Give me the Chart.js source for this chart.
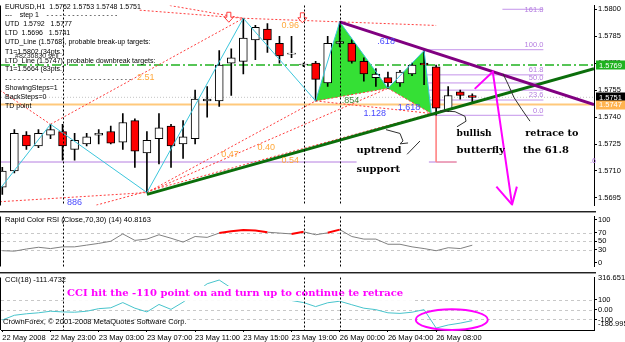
<!DOCTYPE html>
<html><head><meta charset="utf-8">
<script src="https://cdn.jsdelivr.net/npm/chart.js@4/dist/chart.umd.min.js"></script>
<style>
html,body{margin:0;padding:0;background:#fff;width:625px;height:342px;overflow:hidden}
canvas{position:absolute;left:0}
</style></head><body>
<canvas id="cMain" width="625" height="211" style="top:0"></canvas>
<canvas id="cRsi" width="625" height="61" style="top:211px"></canvas>
<canvas id="cCci" width="625" height="70" style="top:272px"></canvas>
<script>
// ---------------- DATA ----------------
const candleIndex = [0,1,2,3,4,5,6,7,8,9,10,11,12,13,14,15,16,17,18,19,20,21,22,23,24,25,26,27,28,29,30,31,32,33,34,35,36,37,38,39];
const openPrice  = [1.5701,1.5710,1.5730,1.5724,1.5730,1.5732,1.5722,1.5725,1.5730,1.5732,1.5726,1.5738,1.5720,1.5728,1.5735,1.5725,1.5728,1.5749,1.5749,1.5770,1.5771,1.5783,1.5789,1.5781,1.5775,1.5769,1.5770,1.5759,1.5781,1.5781,1.5771,1.5762,1.5762,1.5759,1.5764,1.5770,1.5768,1.5744,1.5754,1.5752];
const highPrice  = [1.5712,1.5733,1.5732,1.5733,1.5736,1.5736,1.5731,1.5731,1.5733,1.5735,1.5742,1.5739,1.5732,1.5742,1.5736,1.5738,1.5755,1.5757,1.5777,1.5778,1.5795,1.5791,1.5792,1.5785,1.5785,1.5770,1.5771,1.5785,1.5793,1.5783,1.5773,1.5767,1.5765,1.5766,1.5770,1.5777,1.5769,1.5757,1.5755,1.5753];
const lowPrice   = [1.5697,1.5709,1.5722,1.5723,1.5728,1.5716,1.5716,1.5724,1.5725,1.5725,1.5722,1.5712,1.5698,1.5714,1.5712,1.5717,1.5725,1.5740,1.5746,1.5752,1.5764,1.5772,1.5776,1.5770,1.5773,1.5768,1.5749,1.5757,1.5779,1.5770,1.5760,1.5757,1.5756,1.5757,1.5763,1.5758,1.5741,1.5743,1.5750,1.5748];
const closePrice = [1.5710,1.5731,1.5724,1.5731,1.5733,1.5724,1.5727,1.5729,1.5731,1.57255,1.5737,1.5721,1.5727,1.5734,1.5724,1.5729,1.5750,1.5750,1.5769,1.5773,1.5784,1.5790,1.5783,1.5774,1.5775,1.5769,1.5761,1.5781,1.5782,1.5771,1.5764,1.5764,1.5759,1.5765,1.5769,1.5769,1.5745,1.5752,1.5752,1.5751];
const rsiValues  = [28,27,32,36,33,37,37,41,45,50,67,52,55,65,57,48,61,59,69,73,76,75,71,69,67,72,65,69.5,77,61,55,55,43,43,37,33,28,35,33,40.8163];
const cciValues  = [-105,-57,-42,-32,-16,-23,-26,-16,10,19,72,15,-23,53,3,76,170,263,301,220,160,175,150,130,93,72,31,70,86,50,15,0,-32,-38,-26,0,-186.995,-156,-137,-111.4732];

const timeTickIndex  = [0,4,8,12,16,20,24,28,32,36];
const timeTickLabels = ['22 May 2008','22 May 23:00','23 May 03:00','23 May 07:00','23 May 11:00','23 May 15:00','23 May 19:00','26 May 00:00','26 May 04:00','26 May 08:00'];
const priceTicks = [1.5800,1.5785,1.5770,1.5755,1.5740,1.5725,1.5710,1.5695];
const rsiTicks = [100,70,50,30,0];
const rsiGrid = [70,50,30];
const cciTicks = [100,0,-100];
const cciTickLabels = ['100','0.00','-100'];
const cciGrid = [100,0,-100];
const cciMax = 316.6517, cciMin = -186.995;

// drawn objects (index, price)
const zigzagIdx   = [-0.2,4,12,20,26,28,32,35,35.6];
const zigzagPrice = [1.5700,1.5736,1.5698,1.5795,1.5749,1.5793,1.5756,1.5777,1.5742];
const xabIdx = [26,28,32,26], xabPrice = [1.5749,1.5793,1.5756,1.5749];
const bcdIdx = [32,35,35.6,32], bcdPrice = [1.5756,1.5777,1.5742,1.5756];
const uptrendIdx = [12,49.1], uptrendPrice = [1.5697,1.5767];
const downtrendIdx = [28,49.1], downtrendPrice = [1.5793,1.5747];
const bidPrice = 1.5751, tdPointPrice = 1.5747, utdLinePrice = 1.5769, lowLevelPrice = 1.5715;
const lowLevelSpans = [[-0.2,29.4],[35.4,37.7]];
const fibPrices = [1.5741,1.57495,1.5755,1.5759,1.57635,1.57775,1.5800];
const fibLabels = ['0.0','23.6','','50.0','61.8','100.0','161.8'];
const fibStartIdx = [35.4,35,35,35,35,34.9,41.5];
const fibEndIdx = 44.9;
const redDotIdx = [[-0.2,4],[4,20],[-0.2,12],[7.8,35.6],[12,26],[12,32],[26,32],[32,35.6],[26,35.6],[11.4,20],[13.9,20],[20,28],[28,36]];
const redDotPrice = [[1.5755,1.5736],[1.5736,1.5795],[1.56929,1.5698],[1.5691,1.5742],[1.5698,1.5749],[1.5698,1.5756],[1.5749,1.5756],[1.5756,1.5742],[1.5749,1.5742],[1.57995,1.5795],[1.58021,1.5795],[1.5795,1.5793],[1.5793,1.5791]];
const salmonIdx = [36,36,37.7], salmonPrice = [1.5741,1.5715,1.5715];
const arrowShaftIdx = [39.2,40.7,42.3], arrowShaftPrice = [1.57557,1.57652,1.56913];
const arrowHeadIdx = [41.0,42.3,42.7], arrowHeadPrice = [1.57013,1.56913,1.57013];
const connectorIdx = [[31.84,33.0,33.25,33.0,33.67],[34.66,33.59],[36.32,37.57,38.40,38.48,37.73],[41.55,41.97,42.46,43.13,43.79]];
const connectorPrice = [[1.57330,1.57309,1.57267,1.57251,1.57256],[1.57267,1.57193],[1.57435,1.57430,1.57404,1.57377,1.57346],[1.57641,1.57583,1.57509,1.57441,1.57377]];
const markerIdx = [5,25,28];
const fractalArrowIdx = [18.8,24.9], fractalArrowPrice = [1.5795,1.57947];
const ratioLabels = [
  {i:11.9,p:1.5762,t:'2.51',c:'#ffa83c'},{i:23.9,p:1.5791,t:'0.96',c:'#ffa83c'},
  {i:18.9,p:1.57193,t:'0.47',c:'#ffa83c'},{i:21.9,p:1.57230,t:'0.40',c:'#ffa83c'},
  {i:23.9,p:1.57156,t:'0.54',c:'#ffa83c'},{i:6.0,p:1.56925,t:'886',c:'#4848ff'},
  {i:31.85,p:1.57821,t:'.618',c:'#4848ff'},{i:30.9,p:1.57420,t:'1.128',c:'#4848ff'},
  {i:33.75,p:1.57456,t:'1.618',c:'#4848ff'},{i:28.9,p:1.57493,t:'.854',c:'#3c8c3c'}
];
const noteTexts = [
  {i:29.4,p:1.57214,t:'uptrend',w:45},{i:29.4,p:1.57111,t:'support',w:45},
  {i:37.7,p:1.57309,t:'bullish',w:35},{i:37.7,p:1.57214,t:'butterfly',w:50},
  {i:43.4,p:1.57309,t:'retrace to',w:53},{i:43.2,p:1.57214,t:'the 61.8',w:49}
];
const cciNote = {i:5.37,v:165,t:'CCI hit the -110 point on and turn up to continue te retrace',w:345};
const cciEllipse = {i:37.3,v:-102,ri:2.99,rv:105};
const infoLines = ['EURUSD,H1  1.5752 1.5753 1.5748 1.5751','---    step 1    - - - - - - - - - - - - - - - - -','UTD  1.5792   1.5777','LTD  1.5696   1.5741','UTD_Line (1.5768), probable break-up targets:','T1=1.5802 (34pts.)','LTD_Line (1.5747), probable downbreak targets:','T1=1.5664 (83pts.)','- - - - - - - - - - - - - - - - - - - - - - - - - - - - - -','ShowingSteps=1','BackSteps=0','TD point'];

// ---------------- SETUP ----------------
const FONT = '"Liberation Sans", Arial, sans-serif';
const SERIF = '"DejaVu Serif", serif';
const X_MIN = -0.108, X_MAX = 49.1;
Chart.defaults.font.family = FONT;

function lineDS(xs, ys, style){
  return Object.assign({type:'line', data: xs.map((x,k)=>({x:x, y:ys[k]})), pointRadius:0, fill:false, tension:0, borderWidth:1}, style);
}
function yRight(min, max, ticks, fmt){
  return {type:'linear', position:'right', min:min, max:max,
    afterBuildTicks: s => { s.ticks = ticks.map(v => ({value:v})); },
    afterFit: s => { s.width = 31; },
    grid:{drawOnChartArea:false, drawTicks:true, tickLength:3, color:'#000'},
    border:{display:true, color:'#000'},
    ticks:{font:{size:7.5}, color:'#000', padding:1, autoSkip:false, callback: fmt}};
}
const common = {responsive:false, animation:false, events:[], maintainAspectRatio:false,
  plugins:{legend:{display:false}, tooltip:{enabled:false}}};
const hiddenX = {type:'linear', min:X_MIN, max:X_MAX, display:false, offset:false};

function P(ch, i){ return ch.scales.x.getPixelForValue(i); }
function V(ch, v){ return ch.scales.y.getPixelForValue(v); }
function drawMarkers(ch){
  const c = ch.ctx, a = ch.chartArea;
  c.save(); c.strokeStyle='#000'; c.lineWidth=1; c.setLineDash([2,2]);
  markerIdx.forEach(i => { const x = Math.round(P(ch,i))+0.5; c.beginPath(); c.moveTo(x,a.top); c.lineTo(x,a.bottom); c.stroke(); });
  c.setLineDash([]); c.beginPath(); c.moveTo(0.5,a.top); c.lineTo(0.5,a.bottom); c.stroke();
  c.restore();
}
function drawSep(ch){
  const c = ch.ctx; c.save(); c.fillStyle='#222'; c.fillRect(0,0,596,1); c.fillStyle='#9a9a9a'; c.fillRect(0,1,596,1); c.restore();
}
function drawGrid(ch, vals){
  const c = ch.ctx, a = ch.chartArea;
  c.save(); c.strokeStyle='#c8c8c8'; c.lineWidth=1; c.setLineDash([3,3]);
  vals.forEach(v => { const y = Math.round(V(ch,v))+0.5; c.beginPath(); c.moveTo(a.left,y); c.lineTo(a.right,y); c.stroke(); });
  c.restore();
}

// ---------------- MAIN CHART ----------------
const layers = [];
layers.push(lineDS([X_MIN,X_MAX],[bidPrice,bidPrice],{borderColor:'#c4c4c4',borderDash:[1,2]}));
layers.push(lineDS([X_MIN,X_MAX],[tdPointPrice,tdPointPrice],{borderColor:'#ffc97c',borderWidth:2}));
lowLevelSpans.forEach(s => layers.push(lineDS(s,[lowLevelPrice,lowLevelPrice],{borderColor:'#b57ee0'})));
layers.push(lineDS([X_MIN,X_MAX],[utdLinePrice,utdLinePrice],{borderColor:'#1fb21f',borderWidth:1.5,borderDash:[9,3,2,3]}));
fibPrices.forEach((p,k) => layers.push(lineDS([fibStartIdx[k],fibEndIdx],[p,p],{borderColor:'#c493ea'})));
layers.push(lineDS(xabIdx,xabPrice,{borderWidth:0,borderColor:'rgba(0,0,0,0)',fill:'shape',backgroundColor:'#35e035'}));
layers.push(lineDS(bcdIdx,bcdPrice,{borderWidth:0,borderColor:'rgba(0,0,0,0)',fill:'shape',backgroundColor:'#35e035'}));
redDotIdx.forEach((xs,k) => layers.push(lineDS(xs,redDotPrice[k],{borderColor:'#ff3c3c',borderDash:[2,2]})));
layers.push(lineDS(salmonIdx,salmonPrice,{borderColor:'#ff8a8a'}));
layers.push({type:'bar', grouped:false, barThickness:1, borderWidth:0, backgroundColor:'#000',
  data: candleIndex.map(i => ({x:i, y:[lowPrice[i], highPrice[i]]}))});
layers.push({type:'bar', grouped:false, barThickness:8, borderWidth:1, borderColor:'#000', borderSkipped:false, minBarLength:1,
  backgroundColor: candleIndex.map(i => closePrice[i] < openPrice[i] ? '#ff0000' : '#ffffff'),
  data: candleIndex.map(i => ({x:i, y:[openPrice[i], closePrice[i]]}))});
layers.push(lineDS(zigzagIdx,zigzagPrice,{borderColor:'#3cc6dc'}));
layers.push(lineDS(uptrendIdx,uptrendPrice,{borderColor:'#0b6e0b',borderWidth:3}));
layers.push(lineDS(downtrendIdx,downtrendPrice,{borderColor:'#800080',borderWidth:3}));
connectorIdx.forEach((xs,k) => layers.push(lineDS(xs,connectorPrice[k],{borderColor:'#303030'})));
layers.push(lineDS(arrowShaftIdx,arrowShaftPrice,{borderColor:'#ff00ff',borderWidth:2}));
layers.push(lineDS(arrowHeadIdx,arrowHeadPrice,{borderColor:'#ff00ff',borderWidth:2}));
layers.forEach((d,k) => { d.order = -k; });

const mainPlugin = {id:'mainDeco',
  afterDatasetsDraw(ch){
    const c = ch.ctx;
    c.save();
    fractalArrowIdx.forEach((i,k) => {
      const x = P(ch,i), y = V(ch,fractalArrowPrice[k]);
      c.beginPath(); c.moveTo(x-2,y-6); c.lineTo(x+2,y-6); c.lineTo(x+2,y-1); c.lineTo(x+4.5,y-1); c.lineTo(x,y+4); c.lineTo(x-4.5,y-1); c.lineTo(x-2,y-1); c.closePath();
      c.fillStyle='#fff'; c.fill(); c.strokeStyle='#ff3c3c'; c.lineWidth=1; c.stroke();
    });
    c.font = '7.5px '+FONT; c.fillStyle='#b57ee0'; c.textAlign='right'; c.textBaseline='bottom';
    fibPrices.forEach((p,k) => { if(!fibLabels[k]) return; const y = V(ch,p); c.fillText(fibLabels[k], P(ch,fibEndIdx), k===6 ? y+4 : y-1); });
    c.textAlign='left'; c.fillText('.6', 590, 165);
    c.font = '9px '+FONT; c.textAlign='center'; c.textBaseline='middle';
    ratioLabels.forEach(l => { c.fillStyle=l.c; c.fillText(l.t, P(ch,l.i), V(ch,l.p)); });
    c.font = 'bold 10px '+SERIF; c.fillStyle='#000'; c.textAlign='left'; c.textBaseline='middle';
    noteTexts.forEach(n => c.fillText(n.t, P(ch,n.i), V(ch,n.p), n.w));
    c.restore();
    drawMarkers(ch);
  },
  afterDraw(ch){
    const c = ch.ctx;
    c.save();
    c.font = '7.5px '+FONT; c.textBaseline='middle'; c.textAlign='left';
    const boxes = [{p:utdLinePrice,bg:'#1fb21f',fg:'#fff',t:'1.5769'},{p:bidPrice,bg:'#000',fg:'#fff',t:'1.5751'},{p:tdPointPrice,bg:'#ffb450',fg:'#fff',t:'1.5747'}];
    boxes.forEach(b => { const y = V(ch,b.p); c.fillStyle=b.bg; c.fillRect(596,Math.round(y)-4.5,29,9); c.fillStyle=b.fg; c.fillText(b.t,599,y+0.5); });
    c.fillStyle='#000'; c.font = '7px '+FONT;
    const ys = [7,15.5,24.3,33.3,42.3,51.7,60.7,69.3,79,88.3,96.7,105.7];
    infoLines.forEach((t,k) => c.fillText(t, 5, ys[k]));
    c.fillStyle='#333'; c.fillText('#8236830 sell', 15, 56.5);
    c.restore();
  }};

new Chart(document.getElementById('cMain'), {
  type:'bar',
  data:{datasets:layers},
  options:Object.assign({}, common, {
    layout:{padding:{left:1,right:0,top:0,bottom:0}},
    scales:{x:hiddenX, y:yRight(1.56908,1.58021,priceTicks,v => v.toFixed(4))}
  }),
  plugins:[mainPlugin]
});

// ---------------- RSI ----------------
new Chart(document.getElementById('cRsi'), {
  type:'line',
  data:{datasets:[{data:candleIndex.map(i => ({x:i, y:rsiValues[i]})), pointRadius:0, borderWidth:1, tension:0, borderColor:'#808080',
    segment:{borderColor: s => s.p1.parsed.y > 70 ? '#ff0000' : '#808080', borderWidth: s => s.p1.parsed.y > 70 ? 2 : 1}}]},
  options:Object.assign({}, common, {
    layout:{padding:{left:1,right:0,top:2,bottom:1}},
    scales:{x:hiddenX, y:yRight(-8.6,107.4,rsiTicks,v => String(v))}
  }),
  plugins:[{id:'rsiDeco',
    beforeDraw(ch){ drawSep(ch); },
    beforeDatasetsDraw(ch){ drawGrid(ch, rsiGrid); },
    afterDatasetsDraw(ch){ drawMarkers(ch);
      const c = ch.ctx; c.save(); c.font='7.5px '+FONT; c.fillStyle='#000'; c.textBaseline='middle'; c.fillText('Rapid Color RSI (Close,70,30) (14) 40.8163', 5, 8.5); c.restore(); }}]
});

// ---------------- CCI ----------------
new Chart(document.getElementById('cCci'), {
  type:'line',
  data:{datasets:[{data:candleIndex.map(i => ({x:i, y:cciValues[i]})), pointRadius:0, borderWidth:1, tension:0, borderColor:'#48c4cc'}]},
  options:Object.assign({}, common, {
    layout:{padding:{left:1,right:0,top:2,bottom:0}},
    scales:{
      x:{type:'linear', min:X_MIN, max:X_MAX, offset:false, position:'bottom',
        afterBuildTicks: s => { s.ticks = timeTickIndex.map(v => ({value:v})); },
        afterFit: s => { s.height = 12; },
        grid:{drawOnChartArea:false, drawTicks:true, tickLength:2, color:'#000'},
        border:{display:true, color:'#000'},
        ticks:{font:{size:7.5}, color:'#000', padding:1, autoSkip:false, maxRotation:0, align:'start',
          callback: v => timeTickLabels[timeTickIndex.indexOf(v)]}},
      y:yRight(-206.7,326.7,cciTicks,v => cciTickLabels[cciTicks.indexOf(v)])
    }
  }),
  plugins:[{id:'cciDeco',
    beforeDraw(ch){ drawSep(ch); },
    beforeDatasetsDraw(ch){ drawGrid(ch, cciGrid); },
    afterDatasetsDraw(ch){
      const c = ch.ctx; c.save();
      c.font = 'bold 10px '+SERIF; const x0 = P(ch,cciNote.i), y0 = V(ch,cciNote.v);
      c.fillStyle='#fff'; c.fillRect(x0-3, y0-7.5, cciNote.w+6, 15);
      c.fillStyle='#ff00ff'; c.textBaseline='middle'; c.textAlign='left'; c.fillText(cciNote.t, x0, y0, cciNote.w);
      c.restore();
      drawMarkers(ch);
      c.save();
      const cx = P(ch,cciEllipse.i), cy = V(ch,cciEllipse.v);
      const rx = P(ch,cciEllipse.i+cciEllipse.ri)-cx, ry = Math.abs(V(ch,cciEllipse.v+cciEllipse.rv)-cy);
      c.strokeStyle='#ff00ff'; c.lineWidth=2; c.beginPath(); c.ellipse(cx,cy,rx,ry,0,0,Math.PI*2); c.stroke();
      c.font='7.5px '+FONT; c.fillStyle='#000'; c.textBaseline='middle'; c.textAlign='left';
      c.fillText('CCI(18) -111.4732', 5, 8);
      c.fillText('CrownForex, \u00a9 2001-2008 MetaQuotes Software Corp.', 3, 50);
      c.fillText(cciMax.toFixed(4), 598, 5.5);
      c.fillText(cciMin.toFixed(3), 598, 51.5);
      c.restore();
    }}]
});
</script>
</body></html>
